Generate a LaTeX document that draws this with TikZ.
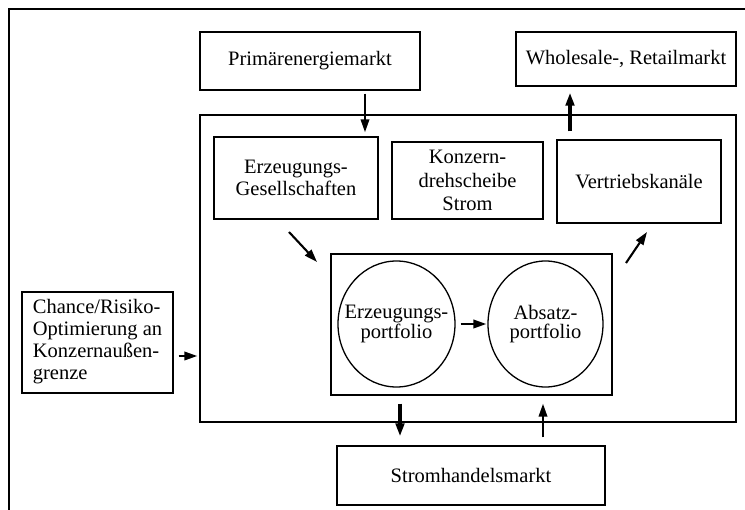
\documentclass[tikz,border=0pt]{standalone}
\usepackage{fontspec}
\setmainfont{Liberation Serif}
\usetikzlibrary{arrows.meta,calc,shapes.geometric}

\begin{document}
\begin{tikzpicture}[x=1pt,y=-1pt,
    every node/.style={font=\fontsize{20.5}{22}\selectfont},
    box/.style={draw,line width=1.4pt,inner sep=0pt,align=center},
    port/.style={ellipse,draw,line width=1.3pt,inner xsep=-12pt,inner ysep=0pt,align=center,
      font=\fontsize{20.5}{19.5}\selectfont},
    arr/.style={line width=2.1pt,-{Triangle[length=13pt,width=8.5pt]}},
    thickarr/.style={arr,line width=3.2pt}]
    \useasboundingbox (0,0) rectangle (745,510);
    \clip (0,0) rectangle (745,510); % frame runs off to the right and bottom
    \draw[line width=1.4pt] (9,9) rectangle (800,560);

    % markets outside
    \node[box,minimum width=220pt,minimum height=58pt] (primaer) at (310,61) {Primärenergiemarkt};
    \node[box,minimum width=220pt,minimum height=54pt] (wholesale) at (626,59) {Wholesale-, Retailmarkt};
    \node[box,minimum width=268pt,minimum height=59pt] (strom) at (471,475.5) {Stromhandelsmarkt};
    \node[box,minimum width=151pt,minimum height=101pt] (chance) at (97.5,342.5)
      {\begin{tabular}{@{}l@{}}Chance/Risiko-\\Optimierung an\\Konzernaußen-\\grenze\end{tabular}};

    % group boundary and units inside
    \node[box,minimum width=536pt,minimum height=307pt] (konzern) at (468,268.5) {};
    \node[box,minimum width=164pt,minimum height=82pt] (erzges) at (296,178) {Erzeugungs-\\Gesellschaften};
    \node[box,minimum width=151pt,minimum height=77pt,font=\fontsize{20.5}{23.5}\selectfont]
      (drehscheibe) at (467.5,180.5) {Konzern-\\drehscheibe\\Strom};
    \node[box,minimum width=164pt,minimum height=83pt] (vertrieb) at (639,181.5) {Vertriebskanäle};

    % portfolios
    \node[box,minimum width=281pt,minimum height=141pt] (portfolio) at (471.5,324.5) {};
    \node[port,minimum width=117pt,minimum height=126pt] (erzport) at (396.5,324) {Erzeugungs-\\portfolio};
    \node[port,minimum width=115pt,minimum height=126pt] (absport) at (545.5,324) {Absatz-\\portfolio};

    \coordinate (xin)  at (365,0);
    \coordinate (xout) at (570,0);
    \coordinate (xsell) at (400,0);
    \coordinate (xbuy) at (543,0);
    \coordinate (ych)  at (0,356);
    \coordinate (d1a) at (289,232);
    \coordinate (d1b) at (317,262);
    \coordinate (d2a) at (626,263);
    \coordinate (d2b) at (647,232);

    \draw[arr,shorten <=3pt,shorten >=4pt] (primaer.south -| xin) -- (erzges.north -| xin);
    \draw[thickarr,shorten <=8pt,shorten >=6pt] (vertrieb.north -| xout) -- (wholesale.south -| xout);
    \draw[arr] (d1a) -- (d1b);
    \draw[arr] (d2a) -- (d2b);
    \draw[arr,shorten <=5pt,shorten >=2pt] (chance.east |- ych) -- (konzern.west |- ych);
    \draw[arr,shorten <=5pt,shorten >=1pt] (erzport) -- (absport);
    \draw[thickarr,shorten <=8pt,shorten >=9pt] (portfolio.south -| xsell) -- (strom.north -| xsell);
    \draw[arr,shorten <=8pt,shorten >=8pt] (strom.north -| xbuy) -- (portfolio.south -| xbuy);
  \end{tikzpicture}
\end{document}
